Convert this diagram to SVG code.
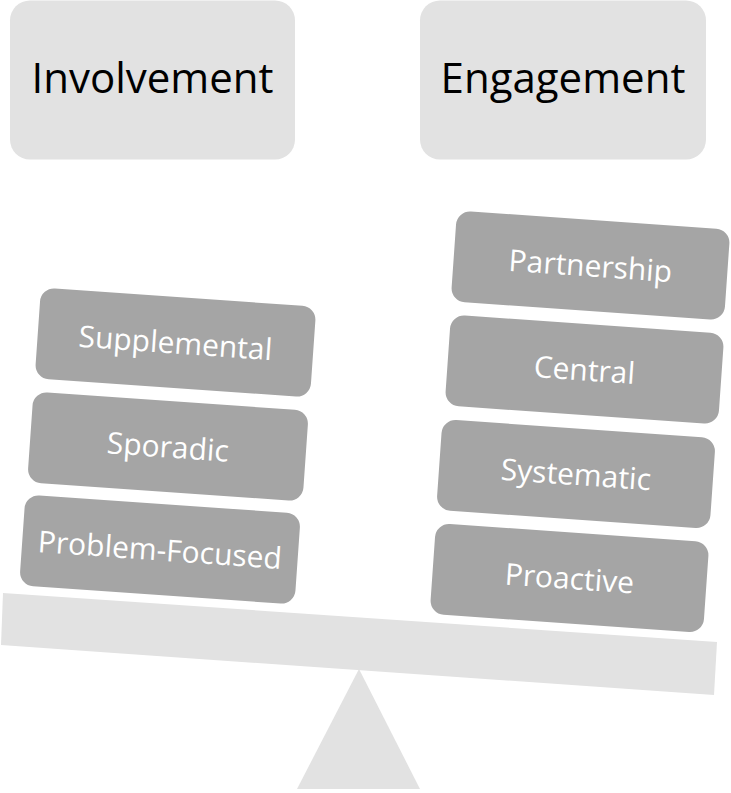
<svg xmlns="http://www.w3.org/2000/svg" width="731" height="793" viewBox="0 0 731 793">
<style>
.head{fill:#e2e2e2}
.headtxt{font-family:"Open Sans","Liberation Sans",sans-serif;font-size:42px;fill:#000;text-anchor:middle}
.blk{fill:#a5a5a5}
.blktxt{font-family:"Open Sans","Liberation Sans",sans-serif;font-size:30px;fill:#fff;text-anchor:middle}
.scale{fill:#e2e2e2}
</style>
<rect width="731" height="793" fill="#fff"/>
<g id="involvement">
<rect class="head" x="10" y="0.5" width="285" height="159" rx="20"/>
<text class="headtxt" x="152.5" y="93">Involvement</text>
</g>
<g id="engagement">
<rect class="head" x="420" y="0.5" width="286" height="159" rx="20"/>
<text class="headtxt" x="563" y="93">Engagement</text>
</g>
<g id="fulcrum"><polygon class="scale" points="359,669 420,789 297,789"/></g>
<g id="beam"><polygon class="scale" points="3,593 717,642 714,695 1,645"/></g>
<g id="supplemental" transform="translate(175.5,342.5) rotate(4)">
<rect class="blk" x="-138" y="-45.5" width="276" height="91" rx="14"/>
<text class="blktxt" x="0" y="11">Supplemental</text>
</g>
<g id="sporadic" transform="translate(168,446.5) rotate(4)">
<rect class="blk" x="-138" y="-45.5" width="276" height="91" rx="14"/>
<text class="blktxt" x="0" y="11">Sporadic</text>
</g>
<g id="problem-focused" transform="translate(160,549.5) rotate(4)">
<rect class="blk" x="-138" y="-45.5" width="276" height="91" rx="14"/>
<text class="blktxt" x="0" y="11">Problem-Focused</text>
</g>
<g id="partnership" transform="translate(590.5,265.5) rotate(4)">
<rect class="blk" x="-137" y="-45.5" width="274" height="91" rx="14"/>
<text class="blktxt" x="0" y="11">Partnership</text>
</g>
<g id="central" transform="translate(584.5,369.5) rotate(4)">
<rect class="blk" x="-137" y="-45.5" width="274" height="91" rx="14"/>
<text class="blktxt" x="0" y="11">Central</text>
</g>
<g id="systematic" transform="translate(576,474) rotate(4)">
<rect class="blk" x="-137" y="-45.5" width="274" height="91" rx="14"/>
<text class="blktxt" x="0" y="11">Systematic</text>
</g>
<g id="proactive" transform="translate(569.5,578) rotate(4)">
<rect class="blk" x="-137" y="-45.5" width="274" height="91" rx="14"/>
<text class="blktxt" x="0" y="11">Proactive</text>
</g>
<g id="connectors"/>
</svg>
